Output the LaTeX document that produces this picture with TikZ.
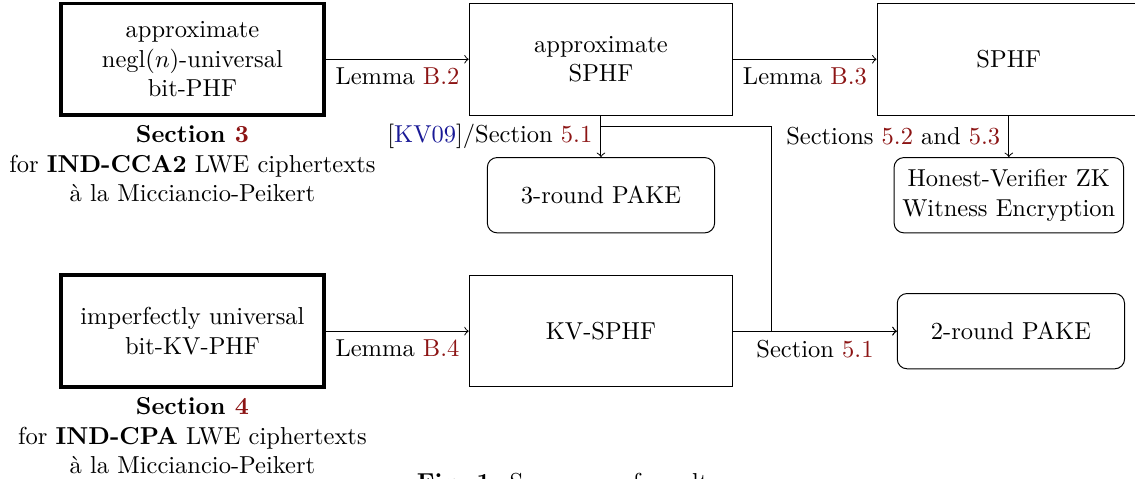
\documentclass[tikz,border=0pt]{standalone}
\usepackage{fontspec}
\usetikzlibrary{positioning}

\definecolor{refred}{RGB}{140,20,20}
\definecolor{citeblue}{RGB}{25,25,150}
\newcommand{\refto}[1]{\textcolor{refred}{#1}}
\newcommand{\citeto}[1]{[\textcolor{citeblue}{#1}]}

\tikzset{
  phfbox/.style={draw, ultra thick, minimum width=3.78cm, minimum height=1.6cm, align=center},
  sphfbox/.style={draw, thin, minimum width=3.78cm, minimum height=1.6cm, align=center},
  appbox/.style={draw, thin, rounded corners, minimum width=3.26cm, minimum height=1.08cm, align=center},
  lemma/.style={midway, below},
  usage/.style={midway, left},
}

\begin{document}
\begin{tikzpicture}
  \useasboundingbox (0,0) rectangle (16.28,-6.87);
  % PHF constructions
  \node[phfbox] (phfCCA) at (2.76,-0.85) {approximate\\negl$(n)$-universal\\bit-PHF};
  \node[phfbox] (phfCPA) at (2.76,-4.75) {imperfectly universal\\bit-KV-PHF};
  \node[align=center, below=0pt of phfCCA] (noteCCA) {\textbf{Section \refto{3}}\\for \textbf{IND-CCA2} LWE ciphertexts\\à la Micciancio-Peikert};
  \node[align=center, below=0pt of phfCPA] (noteCPA) {\textbf{Section \refto{4}}\\for \textbf{IND-CPA} LWE ciphertexts\\à la Micciancio-Peikert};
  % SPHFs
  \node[sphfbox] (sphfApprox) at (8.62,-0.85) {approximate\\SPHF};
  \node[sphfbox] (sphf) at (14.47,-0.85) {SPHF};
  \node[sphfbox] (kvsphf) at (8.62,-4.75) {KV-SPHF};
  % Applications
  \node[appbox] (pake3) at (8.62,-2.80) {3-round PAKE};
  \node[appbox] (hvzk) at (14.47,-2.80) {Honest-Verifier ZK\\Witness Encryption};
  \node[appbox] (pake2) at (14.50,-4.75) {2-round PAKE};
  \coordinate (turn) at (11.06,-1.82);
  % Arrows
  \draw[->] (phfCCA) -- (sphfApprox) node[lemma] {Lemma \refto{B.2}};
  \draw[->] (sphfApprox) -- (sphf) node[lemma] {Lemma \refto{B.3}};
  \draw[->] (phfCPA) -- (kvsphf) node[lemma] {Lemma \refto{B.4}};
  \draw[->] (kvsphf) -- (pake2) node[lemma] {Section \refto{5.1}};
  \draw[->] (sphfApprox) -- (pake3) node[usage] {\citeto{KV09}/Section \refto{5.1}};
  \draw[->] (sphf) -- (hvzk) node[usage] {Sections \refto{5.2} and \refto{5.3}};
  \draw[->] (sphfApprox.south) |- (turn) |- (pake2.west);
  % Caption
  \node[anchor=base] (caption) at (8.14,-7.03) {\textbf{Fig. 1:} Summary of results};
\end{tikzpicture}
\end{document}
